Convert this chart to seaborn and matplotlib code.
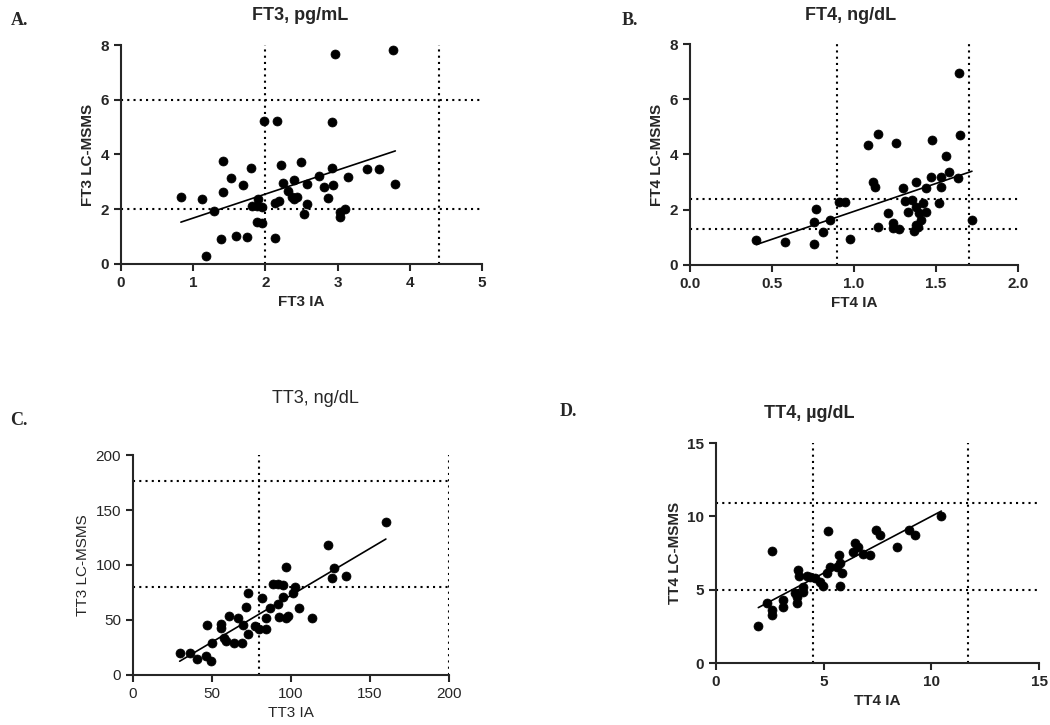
import numpy as np
import pandas as pd
import matplotlib.pyplot as plt
import seaborn as sns

sns.set_style("ticks")
plt.rcParams['font.family'] = ['Liberation Sans', 'DejaVu Sans']

# --- Data ---
ft3_ia = [2.96, 3.77, 1.98, 2.16, 2.92, 1.42, 2.49, 1.80, 2.22, 2.92, 3.41, 3.57,
          1.53, 2.74, 3.15, 1.69, 2.24, 2.40, 2.57, 2.81, 2.93, 3.80, 0.83, 1.12,
          1.42, 1.90, 2.32, 2.37, 2.44, 2.40, 2.14, 2.19, 2.57, 1.82, 1.89, 1.96,
          2.87, 1.29, 2.53, 3.04, 3.10, 3.03, 1.88, 1.96, 1.39, 1.60, 1.74, 2.13, 1.18]
ft3_ms = [7.68, 7.80, 5.24, 5.24, 5.20, 3.77, 3.72, 3.52, 3.60, 3.50, 3.46, 3.46,
          3.13, 3.22, 3.17, 2.89, 2.95, 3.05, 2.91, 2.80, 2.89, 2.91, 2.43, 2.38,
          2.62, 2.38, 2.68, 2.46, 2.46, 2.38, 2.22, 2.30, 2.20, 2.12, 2.10, 2.07,
          2.40, 1.93, 1.83, 1.89, 2.00, 1.73, 1.55, 1.49, 0.90, 1.02, 1.00, 0.96, 0.29]

ft4_ia = [1.64, 1.147, 1.086, 1.255, 1.478, 1.56, 1.65, 1.117, 1.127, 1.38, 1.47, 1.53,
          1.58, 1.635, 1.53, 1.30, 1.44, 1.31, 1.52, 0.406, 0.58, 0.77, 0.76, 0.757,
          0.81, 0.857, 0.907, 0.948, 0.975, 1.15, 1.21, 1.24, 1.24, 1.275, 1.33, 1.356,
          1.38, 1.40, 1.42, 1.41, 1.377, 1.364, 1.39, 1.44, 1.72]
ft4_ms = [6.95, 4.75, 4.35, 4.41, 4.53, 3.95, 4.71, 3.02, 2.84, 3.02, 3.20, 3.20,
          3.35, 3.14, 2.84, 2.78, 2.78, 2.30, 2.26, 0.91, 0.85, 2.03, 1.57, 0.75,
          1.18, 1.63, 2.27, 2.27, 0.94, 1.39, 1.87, 1.51, 1.33, 1.29, 1.93, 2.36,
          2.11, 1.87, 2.24, 1.63, 1.45, 1.24, 1.39, 1.93, 1.63]

tt3_ia = [160, 123.4, 97, 127, 126, 134.6, 88.6, 91.8, 95, 102.3, 101.3, 72.8,
          81.9, 95, 91.8, 86.5, 105, 71.3, 60.8, 66.5, 84.4, 92.4, 98, 97, 113.5,
          46.8, 55.9, 55.9, 69.6, 77, 79.7, 84.4, 72.8, 57.6, 58.6, 63.7, 69.2,
          50, 29.5, 35.9, 40.5, 46.4, 49.6]
tt3_ms = [139, 118, 98.5, 97, 88.5, 90.3, 82.7, 82.7, 81.8, 79.7, 74.2, 74.8,
          69.7, 71.2, 64.2, 60.6, 60.6, 62, 54, 52, 52, 52.4, 54, 51.5, 51.5,
          45.5, 46.4, 42.4, 45.5, 44.5, 41.5, 41.5, 37.3, 33.3, 31.2, 28.8, 28.8,
          28.8, 20.3, 19.7, 14.2, 17.6, 12.7]

tt4_ia = [10.46, 5.21, 2.58, 7.42, 7.63, 8.96, 9.23, 8.38, 6.45, 6.60, 6.37, 6.83,
          7.14, 5.72, 5.75, 5.29, 5.60, 5.13, 5.83, 3.82, 3.86, 4.20, 4.36, 4.59,
          4.82, 4.95, 5.75, 4.05, 4.02, 3.66, 3.74, 3.77, 3.09, 3.09, 2.35, 2.58,
          2.58, 1.96]
tt4_ms = [10.0, 8.97, 7.65, 9.09, 8.74, 9.09, 8.74, 7.90, 8.17, 7.90, 7.60, 7.44,
          7.37, 7.37, 6.80, 6.58, 6.58, 6.12, 6.12, 6.35, 5.94, 5.96, 5.89, 5.78,
          5.55, 5.25, 5.25, 5.20, 4.86, 4.75, 4.47, 4.06, 4.29, 3.84, 4.06, 3.60,
          3.26, 2.51]

panels = [
    # x, y, xlabel, ylabel, xmax, xstep, ymax, ystep, vlines, hlines, axes rect, bold, xfmt
    (ft3_ia, ft3_ms, 'FT3 IA', 'FT3 LC-MSMS', 5, 1, 8, 2, [2.0, 4.4], [6, 2],
     [0.1152, 0.6359, 0.3438, 0.302], True, '{:.0f}'),
    (ft4_ia, ft4_ms, 'FT4 IA', 'FT4 LC-MSMS', 2, 0.5, 8, 2, [0.9, 1.7], [2.4, 1.3],
     [0.657, 0.6345, 0.3124, 0.3048], True, '{:.1f}'),
    (tt3_ia, tt3_ms, 'TT3 IA', 'TT3 LC-MSMS', 200, 50, 200, 50, [80, 200], [176, 80],
     [0.1267, 0.069, 0.301, 0.3034], False, '{:.0f}'),
    (tt4_ia, tt4_ms, 'TT4 IA', 'TT4 LC-MSMS', 15, 5, 15, 5, [4.5, 11.7], [10.9, 4.95],
     [0.682, 0.0855, 0.3076, 0.3034], True, '{:.0f}'),
]

fig = plt.figure(figsize=(10.5, 7.25), dpi=100)

for (x, y, xl, yl, xmax, xstep, ymax, ystep, vls, hls, rect, bold, xfmt) in panels:
    ax = fig.add_axes(rect)
    df = pd.DataFrame({'ia': x, 'ms': y})
    for v in vls:
        ax.axvline(v, color='black', linestyle=(0, (1, 2)), linewidth=1.5, zorder=1)
    for h in hls:
        ax.axhline(h, color='black', linestyle=(0, (1, 2)), linewidth=1.5, zorder=1)
    sns.regplot(data=df, x='ia', y='ms', ax=ax, ci=None, color='black',
                scatter_kws={'s': 42, 'alpha': 1, 'edgecolor': 'black',
                             'linewidths': 0.5, 'zorder': 3},
                line_kws={'linewidth': 1.2, 'zorder': 2})
    ax.set_xlim(0, xmax)
    ax.set_ylim(0, ymax)
    xt = np.arange(0, xmax + xstep / 2, xstep)
    yt = np.arange(0, ymax + ystep / 2, ystep)
    ax.set_xticks(xt)
    ax.set_xticklabels([xfmt.format(t) for t in xt])
    ax.set_yticks(yt)
    ax.set_yticklabels(['{:.0f}'.format(t) for t in yt])
    w = 'bold' if bold else 'normal'
    ax.set_xlabel(xl, fontsize=11, fontweight=w)
    ax.set_ylabel(yl, fontsize=11, fontweight=w)
    ax.tick_params(axis='both', labelsize=11, width=1.5, length=5, direction='out')
    for lab in ax.get_xticklabels() + ax.get_yticklabels():
        lab.set_fontweight(w)
    sns.despine(ax=ax)
    for s in ['left', 'bottom']:
        ax.spines[s].set_linewidth(1.5)
    ax.set_facecolor('white')

# Panel titles
fig.text(0.286, 0.979, 'FT3, pg/mL', ha='center', va='center', fontsize=13, fontweight='bold')
fig.text(0.810, 0.979, 'FT4, ng/dL', ha='center', va='center', fontsize=13, fontweight='bold')
fig.text(0.300, 0.451, 'TT3, ng/dL', ha='center', va='center', fontsize=13)
fig.text(0.771, 0.430, 'TT4, µg/dL', ha='center', va='center', fontsize=13, fontweight='bold')

# Panel letters
for lab, (px, py) in zip(['A.', 'B.', 'C.', 'D.'],
                         [(0.010, 0.972), (0.592, 0.972), (0.010, 0.420), (0.533, 0.432)]):
    fig.text(px, py, lab, ha='left', va='center', fontsize=13, fontweight='bold',
             family='Liberation Serif')

fig.savefig('out.png', dpi=100, facecolor='white')
